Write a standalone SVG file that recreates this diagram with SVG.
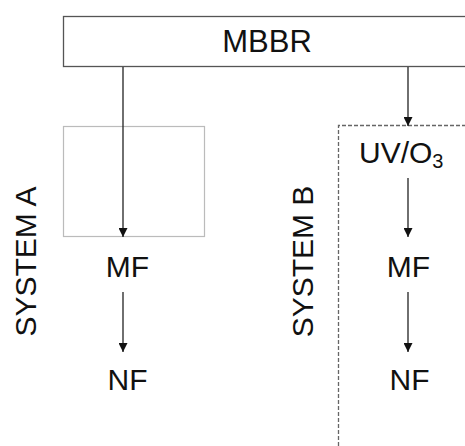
<svg xmlns="http://www.w3.org/2000/svg" width="465" height="446" viewBox="0 0 465 446">
<defs>
<style>
text{font-family:"Liberation Sans",Arial,sans-serif;font-size:30px;fill:#111;}
.c{text-anchor:middle;}
.conn line{stroke:#222;stroke-width:1.3;}
</style>
<marker id="ah" viewBox="0 0 10 10" refX="10" refY="5" markerWidth="9" markerHeight="9" markerUnits="userSpaceOnUse" orient="auto">
<path d="M0,0 L10,5 L0,10 Z" fill="#111"/>
</marker>
</defs>
<rect width="465" height="446" fill="#fff"/>
<g id="systemA-frame">
<rect x="63.5" y="126.5" width="141" height="110" fill="none" stroke="#bbb" stroke-width="1.2"/>
</g>
<g id="systemB-frame">
<polyline points="466,125.5 338.5,125.5 338.5,446" fill="none" stroke="#666" stroke-width="1.3" stroke-dasharray="4,2"/>
</g>
<g id="mbbr">
<rect x="63.5" y="16.5" width="410" height="50" fill="#fff" stroke="#555" stroke-width="1.3"/>
<text class="c" x="267" y="52" style="font-size:31px">MBBR</text>
</g>
<g id="label-systemA">
<text class="c" transform="translate(36,261.5) rotate(-90)">SYSTEM A</text>
</g>
<g id="label-systemB">
<text class="c" transform="translate(313,261.5) rotate(-90)">SYSTEM B</text>
</g>
<g id="uvo3">
<text x="359" y="163">UV/O<tspan style="font-size:20px" dy="5">3</tspan></text>
</g>
<g id="mfA"><text class="c" x="127.5" y="277">MF</text></g>
<g id="nfA"><text class="c" x="127.5" y="390">NF</text></g>
<g id="mfB"><text class="c" x="408.5" y="277">MF</text></g>
<g id="nfB"><text class="c" x="409.5" y="390">NF</text></g>
<g id="connectors" class="conn">
<line x1="123" y1="67" x2="123" y2="237" marker-end="url(#ah)"/>
<line x1="123" y1="292" x2="123" y2="352" marker-end="url(#ah)"/>
<line x1="408" y1="67" x2="408" y2="126" marker-end="url(#ah)"/>
<line x1="408" y1="178" x2="408" y2="237" marker-end="url(#ah)"/>
<line x1="408" y1="292" x2="408" y2="352" marker-end="url(#ah)"/>
</g>
</svg>
